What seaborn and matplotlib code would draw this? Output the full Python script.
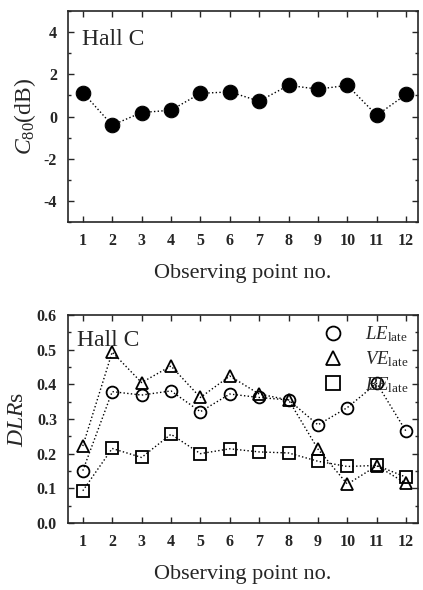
import matplotlib
matplotlib.use("Agg")
import matplotlib.pyplot as plt
from matplotlib.lines import Line2D
from matplotlib.ticker import MultipleLocator
import seaborn as sns
import pandas as pd

points = [1, 2, 3, 4, 5, 6, 7, 8, 9, 10, 11, 12]
c80 = [1.14, -0.41, 0.19, 0.30, 1.10, 1.17, 0.73, 1.48, 1.30, 1.48, 0.06, 1.05]
le_late = [0.151, 0.379, 0.369, 0.381, 0.321, 0.372, 0.362, 0.355, 0.283, 0.333, 0.403, 0.264]
ve_late = [0.222, 0.493, 0.405, 0.453, 0.362, 0.424, 0.372, 0.355, 0.213, 0.112, 0.165, 0.114]
be_late = [0.093, 0.215, 0.189, 0.256, 0.200, 0.214, 0.205, 0.202, 0.178, 0.163, 0.166, 0.132]
series_labels = [r'$\mathit{LE}_{\mathrm{late}}$', r'$\mathit{VE}_{\mathrm{late}}$', r'$\mathit{BE}_{\mathrm{late}}$']

sns.set_style("ticks")
plt.rcParams['font.family'] = ['Liberation Serif', 'DejaVu Serif']
plt.rcParams['mathtext.fontset'] = 'custom'
plt.rcParams['mathtext.rm'] = 'Liberation Serif'
plt.rcParams['mathtext.it'] = 'Liberation Serif:italic'
plt.rcParams['mathtext.bf'] = 'Liberation Serif:bold'
plt.rcParams['axes.unicode_minus'] = False

fig = plt.figure(figsize=(4.23, 5.90), dpi=100)
ax1 = fig.add_axes([0.161, 0.624, 0.827, 0.357])
ax2 = fig.add_axes([0.161, 0.1136, 0.827, 0.3525])

df1 = pd.DataFrame({'pt': points, 'c80': c80})
sns.lineplot(data=df1, x='pt', y='c80', ax=ax1, color='black', linestyle=':',
             linewidth=1.0, marker='o', markersize=10.5, markerfacecolor='black',
             markeredgecolor='black')

markers = ['o', '^', 's']
sizes = [8.5, 9, 8.5]
for vals, mk, ms in zip([le_late, ve_late, be_late], markers, sizes):
    d = pd.DataFrame({'pt': points, 'v': vals})
    sns.lineplot(data=d, x='pt', y='v', ax=ax2, color='black', linestyle=':',
                 linewidth=1.0, marker=mk, markersize=ms, markerfacecolor='none',
                 markeredgecolor='black', markeredgewidth=1.3)

for ax in (ax1, ax2):
    ax.set_xlim(0.5, 12.4)
    ax.set_xticks(points)
    ax.tick_params(axis='both', which='both', direction='in', top=True, right=True,
                   labelsize=11.5, width=1.0)
    ax.tick_params(axis='both', which='major', length=4, pad=8)
    ax.tick_params(axis='both', which='minor', length=2)
    for s in ax.spines.values():
        s.set_linewidth(1.2)
    ax.set_xlabel('Observing point no.', fontsize=16, labelpad=11)

ax1.text(0.04, 0.915, 'Hall C', transform=ax1.transAxes, fontsize=17, ha='left', va='top')
ax2.text(0.025, 0.93, 'Hall C', transform=ax2.transAxes, fontsize=17, ha='left', va='top')

ax1.set_ylim(-5, 5)
ax1.set_yticks([-4, -2, 0, 2, 4])
ax1.yaxis.set_minor_locator(MultipleLocator(1))
ax1.set_ylabel(r'$\mathit{C}_{\mathrm{80}}$(dB)', fontsize=17, labelpad=4)

ax2.set_ylim(0, 0.6)
ax2.set_yticks([0.0, 0.1, 0.2, 0.3, 0.4, 0.5, 0.6])
ax2.set_yticklabels(['0.0', '0.1', '0.2', '0.3', '0.4', '0.5', '0.6'])
ax2.yaxis.set_minor_locator(MultipleLocator(0.05))
ax2.set_ylabel(r'$\mathit{DLR}$s', fontsize=17, labelpad=6)

for ax in (ax1, ax2):
    for lab in ax.get_xticklabels() + ax.get_yticklabels():
        lab.set_fontweight('bold')

handles = [Line2D([], [], color='black', linestyle='none', marker=mk, markersize=10,
                  markerfacecolor='none', markeredgecolor='black', markeredgewidth=1.3)
           for mk in markers]
ax2.legend(handles, series_labels, loc='upper right', frameon=False, fontsize=13.5,
           handletextpad=0.7, labelspacing=0.3, borderaxespad=0.1,
           bbox_to_anchor=(1.0, 1.0))

fig.savefig('out.png', dpi=100)
